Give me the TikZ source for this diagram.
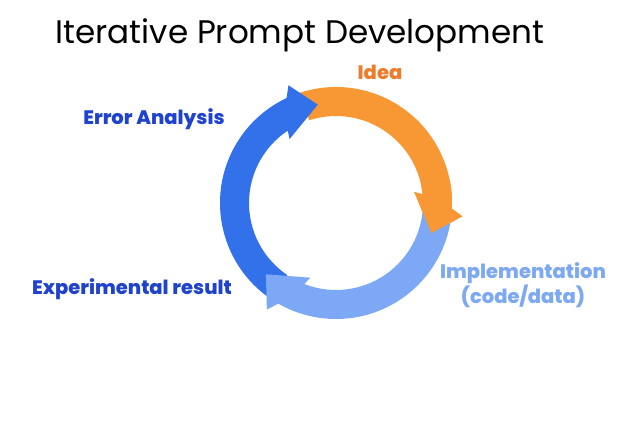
\documentclass[tikz,border=0pt]{standalone}
\usepackage{fontspec}
\setmainfont{Poppins}
\newfontfamily\lblfont{Poppins ExtraBold}
\definecolor{arrorange}{RGB}{247,152,52}
\definecolor{arrdark}{RGB}{51,113,235}
\definecolor{arrlight}{RGB}{125,168,245}
\definecolor{txtdark}{RGB}{31,67,204}
\definecolor{txtorange}{RGB}{237,125,45}
\definecolor{txtlight}{RGB}{125,168,242}
\newcommand\cyclearrow[3]{%
  \fill[#1, shift={(336,237)}]
    (#2:116) arc[start angle=#2, end angle=#3-2.8, radius=116]
    -- (#3-6:127) -- (#3-17.5:100) -- (#3+8:79) -- (#3+5.7:87)
    arc[start angle=#3+5.7, end angle=#2, radius=87] -- cycle;
}
\tikzset{
  lbl/.style={font=\lblfont\fontsize{19.5}{23}\selectfont, align=center, inner sep=0pt},
}
\begin{document}
\begin{tikzpicture}[x=1pt,y=1pt]
\fill[white] (0,0) rectangle (618,440);
\useasboundingbox (0,0) rectangle (618,440);
\node[font=\fontsize{32.6}{38}\selectfont, inner sep=0pt, anchor=base] (title) at (300,396) {Iterative Prompt Development};
% arrows (cyclic overlap: orange, dark, light, then orange head again)
\cyclearrow{arrorange}{108}{0}
\cyclearrow{arrdark}{236}{118}
\cyclearrow{arrlight}{0}{-117}
\cyclearrow{arrorange}{12}{0}
\node[lbl, text=txtorange] (idea) at (380,368) {Idea};
\node[lbl, text=txtdark] (err) at (154,321) {Error Analysis};
\node[lbl, text=txtdark] (exp) at (132,151) {Experimental result};
\node[lbl, text=txtlight] (impl) at (523,155) {Implementation\\(code/data)};
\end{tikzpicture}
\end{document}
